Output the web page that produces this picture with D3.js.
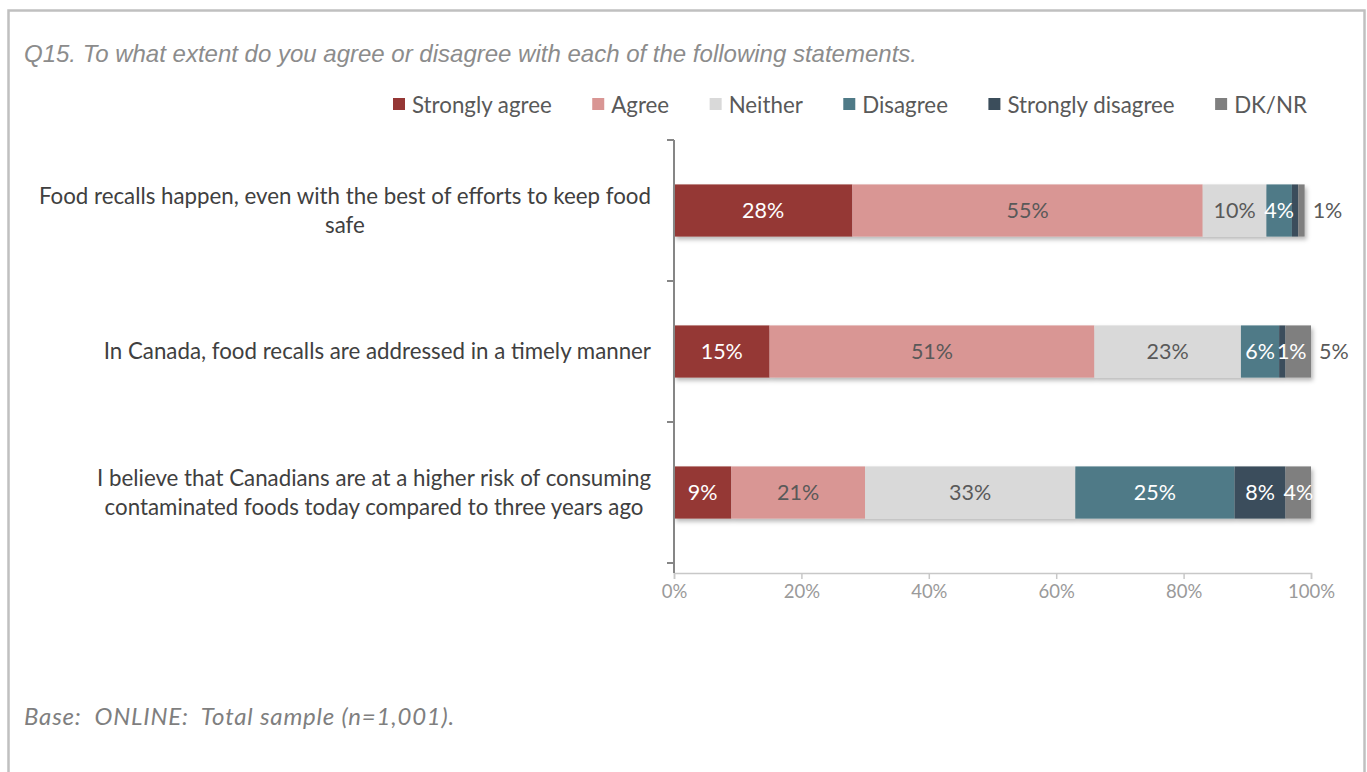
<!DOCTYPE html>
<html>
<head>
<meta charset="utf-8">
<script src="https://cdn.jsdelivr.net/npm/d3@7/dist/d3.min.js"></script>
<style>
  html, body { margin: 0; padding: 0; background: #fff; }
  svg { display: block; }
</style>
</head>
<body>
<svg id="chart" width="1367" height="772"></svg>
<script>
// Survey statements (one horizontal stacked bar each)
const statements = [
  "Food recalls happen, even with the best of efforts to keep food safe",
  "In Canada, food recalls are addressed in a timely manner",
  "I believe that Canadians are at a higher risk of consuming contaminated foods today compared to three years ago"
];
// Response categories in stacking order
const responses = ["Strongly agree", "Agree", "Neither", "Disagree", "Strongly disagree", "DK/NR"];
// Percent values per response (rows follow statements)
const stronglyAgree    = [28, 15, 9];
const agree            = [55, 51, 21];
const neither          = [10, 23, 33];
const disagree         = [4, 6, 25];
const stronglyDisagree = [1, 1, 8];
const dkNr             = [1, 5, 4];
// Which segment values carry a printed label
const labelShown = [
  [true, true, true, true, false, true],
  [true, true, true, true, true, true],
  [true, true, true, true, true, true]
];
const xTicks = [0, 0.2, 0.4, 0.6, 0.8, 1];
const titleText = "Q15. To what extent do you agree or disagree with each of the following statements.";
const footnoteText = "Base:  ONLINE:  Total sample (n=1,001).";

const colors = ["#953735", "#d99694", "#d9d9d9", "#4f7a87", "#3b4d5b", "#7f7f7f"];
const labelColors = ["#ffffff", "#595959", "#595959", "#ffffff", "#ffffff", "#ffffff"];
const series = [stronglyAgree, agree, neither, disagree, stronglyDisagree, dkNr];

const svg = d3.select("#chart");
const bodyFont = "Lato, 'Open Sans', sans-serif";
const textSize = 22.3;

// drop shadow under bar segments
const defs = svg.append("defs");
const f = defs.append("filter").attr("id", "shadow")
  .attr("x", "-10%").attr("y", "-20%").attr("width", "130%").attr("height", "160%");
f.append("feDropShadow").attr("dx", 2).attr("dy", 3).attr("stdDeviation", 2)
  .attr("flood-color", "#000").attr("flood-opacity", 0.28);

// outer frame
svg.append("rect").attr("x", 8.5).attr("y", 10.5).attr("width", 1356).attr("height", 800)
  .attr("fill", "none").attr("stroke", "#c0c0c0").attr("stroke-width", 2.5);

// title
svg.append("text").attr("x", 24).attr("y", 62)
  .attr("font-family", "'Liberation Sans Narrow', 'Arial Narrow', 'Liberation Sans', sans-serif")
  .attr("font-stretch", "condensed")
  .attr("font-style", "italic").attr("font-size", 24).attr("fill", "#8c8c8c")
  .text(titleText);

// footnote
svg.append("text").attr("x", 24).attr("y", 725)
  .attr("font-family", bodyFont).attr("font-style", "italic")
  .attr("font-size", 24).attr("letter-spacing", 0.8).attr("fill", "#7f7f7f")
  .style("white-space", "pre")
  .text(footnoteText);

// scales
const x = d3.scaleLinear().domain([0, 1]).range([674, 1311]).clamp(true);
const y = d3.scaleBand().domain(statements).range([140, 563]).paddingInner(0.63).paddingOuter(0.315);
const axisBottomY = 573;

// stacked data
const rows = statements.map((s, i) => {
  const obj = { statement: s };
  responses.forEach((r, j) => { obj[r] = series[j][i] / 100; });
  return obj;
});
const stack = d3.stack().keys(responses);
const stacked = stack(rows);

// bars
const barG = svg.append("g").attr("filter", "url(#shadow)");
stacked.forEach((layer, j) => {
  barG.append("g").attr("fill", colors[j])
    .selectAll("rect").data(layer).join("rect")
    .attr("x", d => x(d[0]))
    .attr("y", d => y(d.data.statement))
    .attr("width", d => Math.max(0, x(d[1]) - x(d[0])))
    .attr("height", y.bandwidth());
});

// x axis
const xAxis = svg.append("g").attr("transform", `translate(0,${axisBottomY})`)
  .call(d3.axisBottom(x).tickValues(xTicks).tickFormat(d3.format(".0%")).tickSizeOuter(0).tickSize(6));
xAxis.select(".domain").attr("stroke", "#c8c8c8").attr("stroke-width", 1.5);
xAxis.selectAll(".tick line").attr("stroke", "#c8c8c8").attr("stroke-width", 1.5);
xAxis.selectAll(".tick text").attr("fill", "#9a9a9a").attr("font-family", bodyFont)
  .attr("font-size", 18.5).attr("dy", "0.85em");

// y axis: line with ticks on band boundaries
const bounds = [y.range()[0]].concat(statements.map(s => y(s) + y.bandwidth() / 2 + y.step() / 2));
const yAxis = svg.append("g");
yAxis.append("line").attr("x1", 674).attr("x2", 674).attr("y1", y.range()[0]).attr("y2", axisBottomY)
  .attr("stroke", "#868686").attr("stroke-width", 2);
yAxis.selectAll("line.tk").data(bounds).join("line").attr("class", "tk")
  .attr("x1", 667).attr("x2", 674).attr("y1", d => d).attr("y2", d => d)
  .attr("stroke", "#868686").attr("stroke-width", 2);

// category labels: wrapped, lines centred within a right-aligned block
const catG = svg.append("g").attr("font-family", bodyFont).attr("font-size", textSize).attr("fill", "#404040");
const measure = svg.append("text").attr("font-family", bodyFont).attr("font-size", textSize).attr("visibility", "hidden");
const textWidth = t => { measure.text(t); return measure.node().getComputedTextLength(); };
const wrapWidth = 630;
statements.forEach(s => {
  const words = s.split(" ");
  const lines = [];
  let cur = "";
  words.forEach(w => {
    const test = cur ? cur + " " + w : w;
    if (textWidth(test) > wrapWidth && cur) { lines.push(cur); cur = w; } else { cur = test; }
  });
  lines.push(cur);
  const blockW = d3.max(lines, textWidth);
  const cx = 651 - blockW / 2;
  const lh = 29;
  const cy = y(s) + y.bandwidth() / 2;
  const t = catG.append("text").attr("text-anchor", "middle");
  lines.forEach((ln, k) => {
    t.append("tspan").attr("x", cx)
      .attr("y", cy - (lines.length - 1) * lh / 2 + k * lh)
      .attr("dy", "0.35em").text(ln);
  });
});
measure.remove();

// data labels with simple left-to-right collision avoidance
const lblG = svg.append("g").attr("font-family", bodyFont).attr("font-size", 21.5).attr("text-anchor", "middle");
const lblMeasure = lblG.append("text").attr("visibility", "hidden");
rows.forEach((row, i) => {
  let prevRight = -Infinity;
  const barEnd = x(stacked[stacked.length - 1][i][1]);
  const cy = y(row.statement) + y.bandwidth() / 2;
  responses.forEach((r, j) => {
    if (!labelShown[i][j]) return;
    const seg = stacked[j][i];
    const txt = Math.round(series[j][i]) + "%";
    lblMeasure.text(txt);
    const half = lblMeasure.node().getComputedTextLength() / 2;
    const centre = (x(seg[0]) + x(seg[1])) / 2;
    let px = Math.max(centre, prevRight + 2 + half);
    if (px > centre && px - half < barEnd && px + half > barEnd) px = barEnd + 8 + half;
    prevRight = px + half;
    // colour from the segment the label sits on
    let fill = "#595959";
    if (px < barEnd) {
      const k = stacked.findIndex(L => px >= x(L[i][0]) && px < x(L[i][1]));
      if (k >= 0) fill = labelColors[k];
    }
    lblG.append("text").attr("x", px).attr("y", cy).attr("dy", "0.35em")
      .attr("fill", fill).text(txt);
  });
});
lblMeasure.remove();

// legend
const legG = svg.append("g").attr("font-family", bodyFont).attr("font-size", textSize).attr("fill", "#595959");
let lx = 393;
responses.forEach((r, j) => {
  legG.append("rect").attr("x", lx).attr("y", 98).attr("width", 12).attr("height", 12).attr("fill", colors[j]);
  const t = legG.append("text").attr("x", lx + 19).attr("y", 105).attr("dy", "0.35em").text(r);
  lx += 19 + t.node().getComputedTextLength() + 40.5;
});
</script>
</body>
</html>
